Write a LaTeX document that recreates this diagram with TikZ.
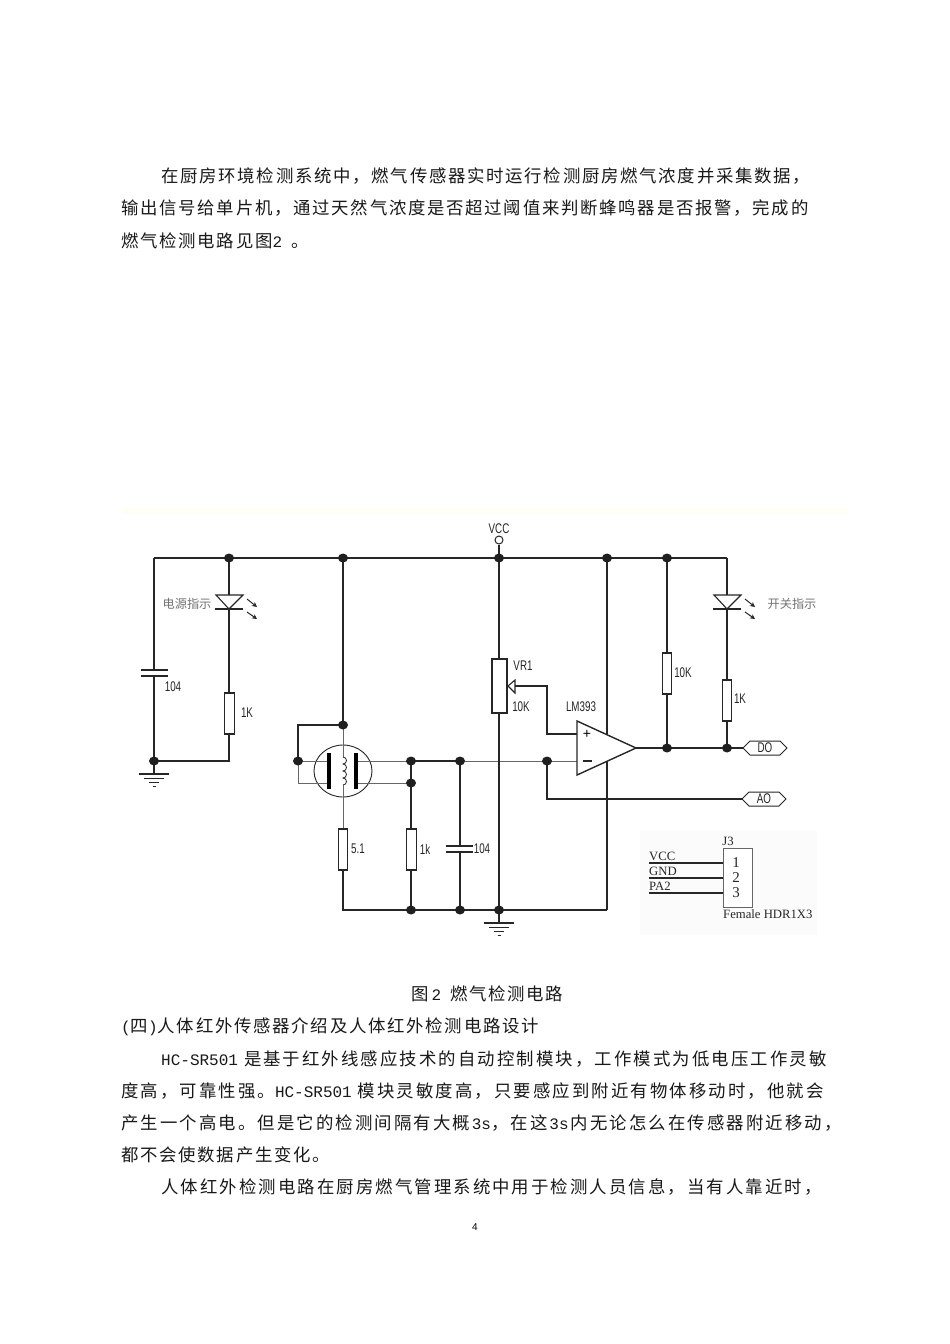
\documentclass[tikz,border=0pt]{standalone}
\usepackage{fontspec}
\setmainfont{Liberation Mono}
\newfontfamily\cjk{Noto Sans CJK SC}
\newfontfamily\cjkb[LetterSpace=10]{Noto Sans CJK SC}
\newfontfamily\cjkc[LetterSpace=12]{Noto Sans CJK SC}
\newfontfamily\mono{Liberation Mono}
\newfontfamily\lab[FakeStretch=0.7]{Liberation Sans}
\newfontfamily\plain{Liberation Sans}
\newfontfamily\ser{Liberation Serif}
\newcommand{\LT}[1]{{\mono\fontsize{16}{18}\selectfont #1}}
\usetikzlibrary{shapes.geometric,arrows.meta}
\definecolor{ink}{HTML}{262626}
\tikzset{
  wire/.style={draw=ink,line width=1.4pt},
  thinwire/.style={draw=ink!70,line width=1pt},
  dot/.style={ellipse,fill=black!88,inner sep=0pt,minimum width=10pt,minimum height=9pt},
  res/.style={draw=ink,fill=white,line width=1.1pt,inner sep=0pt,minimum width=9.5pt,minimum height=41pt},
  small/.style={font=\lab\fontsize{14}{15}\selectfont,text=ink,inner sep=0pt},
  cn/.style={font=\cjk\fontsize{12.2}{14}\selectfont,text=black!55,inner sep=0pt},
  body/.style={font=\cjkb\fontsize{17.4}{19}\selectfont,anchor=west,inner sep=0pt,text=black!90},
  bodyw/.style={body,font=\cjkc\fontsize{17.4}{19}\selectfont},
  tagbox/.style={draw=ink,line width=1pt,fill=white},
  j/.style={font=\ser\fontsize{12.7}{15}\selectfont,inner sep=0pt,text=ink},
  jd/.style={font=\ser\fontsize{15}{16}\selectfont,inner sep=0pt,text=ink}
}
\begin{document}
\begin{tikzpicture}[x=1pt,y=-1pt]
\useasboundingbox (0,0) rectangle (950,1344);
\fill[white] (0,0) rectangle (950,1344);
\fill[yellow!4] (122,508) rectangle (848,514);
\fill[black!1.5] (640,830) rectangle (817,935);
% body text
\node[body] (t1) at (161,176) {在厨房环境检测系统中，燃气传感器实时运行检测厨房燃气浓度并采集数据，};
\node[body] (t2) at (121,208) {输出信号给单片机，通过天然气浓度是否超过阈值来判断蜂鸣器是否报警，完成的};
\node[body] (t3) at (121,241) {燃气检测电路见图\LT{2}\hspace{9pt}。};
\node[body] (cap) at (411,994) {图\hspace{3pt}\LT{2}\hspace{9pt}燃气检测电路};
\node[body] (t4) at (121,1027) {\LT{(}四\LT{)}人体红外传感器介绍及人体红外检测电路设计};
\node[bodyw] (t5) at (161,1059) {\LT{HC-SR501}\hspace{6pt}是基于红外线感应技术的自动控制模块，工作模式为低电压工作灵敏};
\node[bodyw] (t6) at (121,1091) {度高，可靠性强。\LT{HC-SR501}\hspace{6pt}模块灵敏度高，只要感应到附近有物体移动时，他就会};
\node[bodyw] (t7) at (121,1123) {产生一个高电。但是它的检测间隔有大概\hspace{2pt}\LT{3s}，在这\hspace{2pt}\LT{3s}\hspace{2pt}内无论怎么在传感器附近移动，};
\node[body] (t8) at (121,1155) {都不会使数据产生变化。};
\node[bodyw] (t9) at (161,1187) {人体红外检测电路在厨房燃气管理系统中用于检测人员信息，当有人靠近时，};
\node[font=\plain\fontsize{10}{12}\selectfont,inner sep=0pt] (pg) at (475,1227) {4};
% junctions
\foreach \n/\x/\y in {a/229/558,b/343/558,c/499/558,d/607/558,e/667/558,
  f/154/761,g/343/725,h/298/761,i/411/761,k/411/783,l/460/761,m/547/761,
  n/667/748,o/727/748,p/411/910,q/460/910,r/499/910}
  \coordinate (\n) at (\x,\y);
\coordinate (tl) at (154,558); \coordinate (tr) at (727,558);
\coordinate (gl) at (154,774); \coordinate (gr) at (499,923);
\coordinate (bl) at (343,910); \coordinate (br) at (607,910);
\draw[wire] (tl) -- (tr);
\node[draw=ink,line width=1pt,circle,inner sep=0pt,minimum size=8pt] (vcc) at (499,540) {};
\node[small] (vcct) at (499,529) {VCC};
\draw[wire] (vcc) -- (c);
% left branch
\draw[wire] (tl) -- (gl);
\draw[wire] (a) -- (229,761) -- (f);
\draw[wire] (b) -- (g);
\draw[wire] (g) -- (298,725) -- (298,761);
\draw[thinwire] (298,761) -- (298,783);
\draw[thinwire] (g) -- (343,757);
\draw[thinwire] (343,785) -- (343,829);
\draw[wire] (i) -- (l);
\draw[thinwire] (l) -- (577,761);
\draw[wire] (i) -- (p);
\draw[wire] (l) -- (q);
\draw[wire] (343,870) -- (bl) -- (br);
\draw[wire] (c) -- (gr);
\draw[wire] (d) -- (br);
\draw[wire] (e) -- (n);
\draw[wire] (tr) -- (o);
% capacitors
\fill[white] (141,671) rectangle (168,675);
\draw[wire] (141,670) -- (168,670) (141,676) -- (168,676);
\fill[white] (446,847) rectangle (473,851);
\draw[wire] (446,846) -- (473,846) (446,852) -- (473,852);
% resistors
\node[res] (r1) at (229.5,713.5) {};
\node[res] (r2) at (343,849.5) {};
\node[res] (r3) at (411.5,849.5) {};
\node[res] (r4) at (667,673.5) {};
\node[res] (r5) at (727,700.5) {};
\node[res,minimum width=15pt,minimum height=54pt] (pot) at (499.5,686) {};
% wiper
\draw[wire,line width=1.1pt] (508,686) -- (515,680) -- (515,693) -- cycle;
\draw[wire] (515,686) -- (547,686) -- (547,734) -- (577,734);
% opamp
\draw[wire,fill=white] (577,721) -- (636,748) -- (577,775) -- cycle;
\node[font=\plain\fontsize{14}{14}\selectfont,inner sep=0pt] (plus) at (587,734) {+};
\draw[ink,line width=1.1pt] (583,761) -- (592,761);
\node[small] (lm) at (581,707) {LM393};
\coordinate (opout) at (636,748);
\draw[wire] (opout) -- (743,748);
\draw[wire] (m) -- (547,799) -- (742,799);
% tags
\draw[tagbox] (743,748) -- (750,741) -- (780,741) -- (787,748) -- (780,755) -- (750,755) -- cycle;
\draw[tagbox] (742,799) -- (749,792) -- (779,792) -- (786,799) -- (779,806) -- (749,806) -- cycle;
\node[small] (dol) at (765,748) {DO};
\node[small] (aol) at (764,799) {AO};
% sensor
\node[draw=ink,line width=.9pt,ellipse,minimum width=58pt,minimum height=52pt,inner sep=0pt] (sens) at (343,771) {};
\draw[thinwire] (h) -- (329,761);
\draw[thinwire] (298,783) -- (329,783);
\draw[thinwire] (356,761) -- (i);
\draw[thinwire] (356,783) -- (k);
\draw[thinwire] (343,742) -- (343,757);
\draw[thinwire] (343,785) -- (343,800);
\fill[black] (327,753) rectangle (331,789);
\fill[black] (354,753) rectangle (358,789);
\draw[ink,line width=.8pt] (343,757) arc[start angle=-90,end angle=90,radius=3.5]
  arc[start angle=-90,end angle=90,radius=3.5]
  arc[start angle=-90,end angle=90,radius=3.5]
  arc[start angle=-90,end angle=90,radius=3.5];
% LEDs
\foreach \x in {229,727}{
  \draw[ink,line width=1.1pt,fill=white] (\x-13,595) -- (\x+14,595) -- (\x,609) -- cycle;
  \draw[ink,line width=1.6pt] (\x-14,609) -- (\x+14,609);
  \draw[ink,line width=1pt,-{Stealth[length=5pt,width=5pt]}] (\x+18,599) -- (\x+28,607);
  \draw[ink,line width=1pt,-{Stealth[length=5pt,width=5pt]}] (\x+18,612) -- (\x+28,619);
}
% grounds
\foreach \x/\y in {154/774,499/923}{
  \draw[ink,line width=1.1pt] (\x-15,\y) -- (\x+15,\y);
  \draw[ink,line width=1.1pt] (\x-10,\y+4.5) -- (\x+10,\y+4.5);
  \draw[ink,line width=1.1pt] (\x-5,\y+8.5) -- (\x+5,\y+8.5);
  \draw[ink,line width=1.1pt] (\x-1.5,\y+12.5) -- (\x+1.5,\y+12.5);
}
% dots
\foreach \n in {a,b,c,d,e,f,g,h,i,k,l,m,n,o,p,q,r}
  \node[dot] (dot\n) at (\n) {};
% labels
\node[cn] (c1) at (187,604) {电源指示};
\node[cn] (c2) at (792,604) {开关指示};
\node[small] (l1) at (173,687) {104};
\node[small] (l2) at (247,713) {1K};
\node[small] (l3) at (358,849) {5.1};
\node[small] (l4) at (425,849) {1k};
\node[small] (l5) at (482,849) {104};
\node[small] (l6) at (523,666) {VR1};
\node[small] (l7) at (521,707) {10K};
\node[small] (l8) at (683,673) {10K};
\node[small] (l9) at (740,699) {1K};
% header
\node[draw=black!60,line width=.9pt,fill=white,minimum width=29pt,minimum height=59pt,inner sep=0pt] (j3) at (737.5,877.5) {};
\coordinate (p1) at (649,863); \coordinate (p2) at (649,878); \coordinate (p3) at (649,893);
\draw[ink,line width=1.3pt] (p1) -- (j3.west |- p1);
\draw[ink,line width=1.3pt] (p2) -- (j3.west |- p2);
\draw[ink,line width=1.3pt] (p3) -- (j3.west |- p3);
\node[j,anchor=west] (jv) at (649,856) {VCC};
\node[j,anchor=west] (jg) at (649,871) {GND};
\node[j,anchor=west] (jp) at (649,886) {PA2};
\node[jd] (j1) at (736,863) {1};
\node[jd] (j2) at (736,878) {2};
\node[jd] (j33) at (736,893) {3};
\node[j] (jn) at (728,841) {J3};
\node[j,anchor=west] (jf) at (723,914) {Female HDR1X3};
\end{tikzpicture}
\end{document}
